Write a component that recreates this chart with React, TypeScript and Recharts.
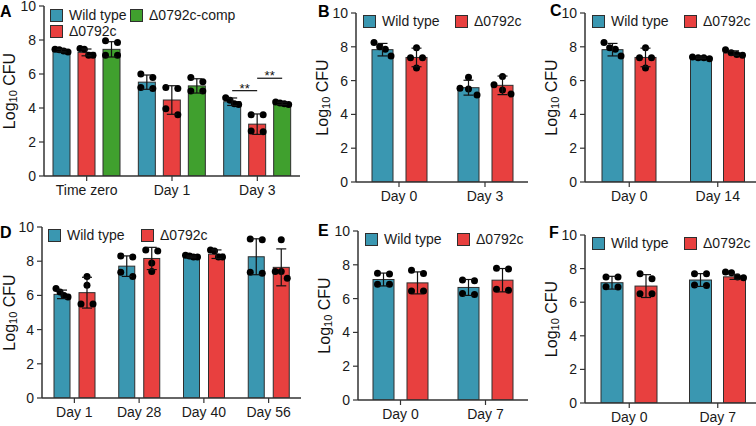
import { BarChart, Bar, XAxis, YAxis, ErrorBar } from "recharts";

const FONT = '"Liberation Sans", Arial, Helvetica, sans-serif';
const WT_COLOR = "#3a97b1";
const MUT_COLOR = "#e8403f";
const COMP_COLOR = "#40a02e";
const EDGE = "#2e2e2e";
const INK = "#1a1a1a";

// ---- panel A ----
const aCategories = ["Time zero", "Day 1", "Day 3"];
const aWtMean = [7.38, 5.52, 4.37];
const aWtSd = [0.08, 0.42, 0.22];
const aWtPts = [[7.3, 7.42, 7.45, 7.36], [5.8, 6.0, 5.2, 5.15], [4.6, 4.45, 4.2, 4.25]];
const aMutMean = [7.27, 4.47, 3.05];
const aMutSd = [0.2, 0.84, 0.6];
const aMutPts = [[7.45, 7.5, 7.1, 7.1], [5.2, 5.15, 3.95, 3.6], [3.6, 3.6, 2.65, 2.6]];
const aCompMean = [7.45, 5.3, 4.27];
const aCompSd = [0.45, 0.42, 0.07];
const aCompPts = [[7.85, 7.95, 7.1, 7.1], [5.55, 5.8, 5.0, 5.0], [4.35, 4.3, 4.25, 4.2]];
const aBrackets = [
  { category: "Day 3", from: 0, to: 1, level: 5.02, text: "**" },
  { category: "Day 3", from: 1, to: 2, level: 5.75, text: "**" },
];

// ---- panel B ----
const bCategories = ["Day 0", "Day 3"];
const bWtMean = [7.83, 5.58];
const bWtSd = [0.37, 0.44];
const bWtPts = [[8.0, 8.25, 7.85, 7.45], [6.2, 5.55, 5.5, 5.15]];
const bMutMean = [7.37, 5.72];
const bMutSd = [0.55, 0.55];
const bMutPts = [[7.95, 7.35, 7.35, 6.75], [6.25, 5.75, 5.45, 5.2]];

// ---- panel C ----
const cCategories = ["Day 0", "Day 14"];
const cWtMean = [7.83, 7.35];
const cWtSd = [0.37, 0.05];
const cWtPts = [[8.25, 7.95, 7.85, 7.45], [7.4, 7.35, 7.3, 7.35]];
const cMutMean = [7.37, 7.63];
const cMutSd = [0.55, 0.13];
const cMutPts = [[7.95, 7.35, 7.35, 6.75], [7.82, 7.65, 7.55, 7.5]];

// ---- panel D ----
const dCategories = ["Day 1", "Day 28", "Day 40", "Day 56"];
const dWtMean = [6.06, 7.71, 8.25, 8.26];
const dWtSd = [0.25, 0.6, 0.05, 1.05];
const dWtPts = [[6.4, 6.2, 6.0, 5.9], [8.3, 8.25, 7.35, 7.1], [8.35, 8.3, 8.25, 8.25], [9.3, 9.25, 7.3, 7.35]];
const dMutMean = [6.16, 8.16, 8.41, 7.64];
const dMutSd = [0.9, 0.65, 0.25, 1.08];
const dMutPts = [[7.1, 6.6, 5.5, 5.5], [8.65, 8.6, 7.9, 7.4], [8.65, 8.6, 8.25, 8.25], [9.25, 7.4, 7.4, 7.0]];

// ---- panel E ----
const eCategories = ["Day 0", "Day 7"];
const eWtMean = [7.13, 6.66];
const eWtSd = [0.38, 0.47];
const eWtPts = [[7.45, 7.5, 6.85, 6.85], [7.1, 7.05, 6.3, 6.25]];
const eMutMean = [6.93, 7.09];
const eMutSd = [0.65, 0.69];
const eMutPts = [[7.68, 7.48, 6.45, 6.45], [7.75, 7.8, 6.5, 6.55]];

// ---- panel F ----
const fCategories = ["Day 0", "Day 7"];
const fWtMean = [7.16, 7.32];
const fWtSd = [0.38, 0.38];
const fWtPts = [[7.5, 7.5, 6.92, 6.9], [7.7, 7.7, 7.0, 7.02]];
const fMutMean = [6.96, 7.51];
const fMutSd = [0.68, 0.15];
const fMutPts = [[7.7, 7.4, 6.5, 6.5], [7.8, 7.75, 7.5, 7.45]];

const yTicks = [0, 2, 4, 6, 8, 10];

type Series = { key: string; name: string; color: string; mean: number[]; sd: number[]; pts: number[][] };
type Bracket = { category: string; from: number; to: number; level: number; text: string };

const wt = (mean: number[], sd: number[], pts: number[][]): Series => ({ key: "wt", name: "Wild type", color: WT_COLOR, mean, sd, pts });
const mut = (mean: number[], sd: number[], pts: number[][]): Series => ({ key: "mut", name: "Δ0792c", color: MUT_COLOR, mean, sd, pts });

function buildRows(categories: string[], series: Series[]) {
  return categories.map((c, i) => {
    const row: any = { label: c };
    series.forEach((s) => {
      row[s.key] = s.mean[i];
      row[s.key + "Sd"] = s.sd[i];
      row[s.key + "Pts"] = s.pts[i];
    });
    return row;
  });
}

// spread replicate dots sideways when they would overlap
function placeDots(values: number[], base: number, k: number, cx: number, width: number) {
  const r = 3.5;
  const items = values.map((v) => ({ y: base - v * k })).sort((a, b) => a.y - b.y);
  const groups: { y: number }[][] = [];
  items.forEach((it) => {
    const g = groups[groups.length - 1];
    if (g && it.y - g[g.length - 1].y < 2 * r) g.push(it);
    else groups.push([it]);
  });
  const out: { x: number; y: number }[] = [];
  groups.forEach((g) => {
    const n = g.length;
    const step = n > 1 ? Math.min(12, (width - 4) / (n - 1)) : 0;
    g.forEach((it, j) => out.push({ x: cx + (j - (n - 1) / 2) * step, y: it.y }));
  });
  return out;
}

function barShape(s: Series, idx: number, gap: number, brackets: Bracket[]) {
  return (p: any) => {
    const { x, y, width, height, payload } = p;
    const mean = payload[s.key];
    const base = y + height;
    const k = mean ? height / mean : 0;
    const cx = x + width / 2;
    const dots = placeDots(payload[s.key + "Pts"] || [], base, k, cx, width);
    const marks = brackets.filter((b) => b.category === payload.label && b.to === idx);
    return (
      <g>
        <rect x={x} y={y} width={width} height={height} fill={s.color} stroke={EDGE} strokeWidth={1} />
        {dots.map((d, i) => (
          <circle key={i} cx={d.x} cy={d.y} r={3.5} fill="#000" />
        ))}
        {marks.map((b, i) => {
          const x0 = cx - (b.to - b.from) * (width + gap);
          const yy = base - b.level * k;
          return (
            <g key={"b" + i}>
              <line x1={x0} x2={cx} y1={yy} y2={yy} stroke="#111" strokeWidth={1.2} />
              <text x={(x0 + cx) / 2} y={yy + 2} textAnchor="middle" fontSize={13} fontFamily={FONT} fill="#111">
                {b.text}
              </text>
            </g>
          );
        })}
      </g>
    );
  };
}

const yLabel = (offset: number) => (props: any) => {
  const vb = props.viewBox || { x: 0, y: 0, width: 60, height: 170 };
  const x = vb.x + vb.width - offset;
  const y = vb.y + vb.height / 2;
  return (
    <text x={x} y={y} transform={`rotate(-90 ${x} ${y})`} textAnchor="middle" dominantBaseline="central" fontFamily={FONT} fontSize={16} fill="#111">
      Log<tspan fontSize={11} dy={4}>10</tspan>
      <tspan dy={-4}> CFU</tspan>
    </text>
  );
};

type LegendItem = { s: Series; dx: number; dy: number };

type PanelProps = {
  letter: string;
  letterX: number;
  letterY: number;
  left: number;
  top: number;
  plotW: number;
  plotH: number;
  categories: string[];
  series: Series[];
  barSize: number;
  barGap: number;
  labelOffset: number;
  legend: LegendItem[];
  brackets?: Bracket[];
};

function Panel(props: PanelProps) {
  const { left, top, plotW, plotH, series, barSize, barGap } = props;
  const padL = 60;
  const padT = 12;
  const padR = 12;
  const xH = 30;
  const padB = 10;
  const rows = buildRows(props.categories, series);
  const brackets = props.brackets || [];
  return (
    <>
      <div style={{ position: "absolute", left: left - padL, top: top - padT }}>
        <BarChart
          width={plotW + padL + padR}
          height={plotH + padT + xH + padB}
          data={rows}
          margin={{ top: padT, right: padR, bottom: padB, left: 0 }}
          barSize={barSize}
          barGap={barGap}
        >
          <XAxis
            dataKey="label"
            height={xH}
            interval={0}
            tickSize={5}
            tickMargin={4}
            axisLine={{ stroke: "#333", strokeWidth: 1.5 }}
            tickLine={{ stroke: "#333", strokeWidth: 1.2 }}
            tick={{ fontSize: 14, fill: INK, fontFamily: FONT }}
          />
          <YAxis
            width={padL}
            domain={[0, 10]}
            ticks={yTicks}
            allowDataOverflow
            interval={0}
            tickSize={5}
            tickMargin={3}
            axisLine={{ stroke: "#333", strokeWidth: 1.5 }}
            tickLine={{ stroke: "#333", strokeWidth: 1.2 }}
            tick={{ fontSize: 14, fill: INK, fontFamily: FONT }}
            label={{ content: yLabel(props.labelOffset) }}
          />
          {series.map((s, i) => (
            <Bar key={s.key} dataKey={s.key} name={s.name} isAnimationActive={false} shape={barShape(s, i, barGap, brackets)}>
              <ErrorBar dataKey={s.key + "Sd"} width={5} stroke="#111" strokeWidth={1.2} />
            </Bar>
          ))}
        </BarChart>
      </div>
      {props.legend.map((it, i) => (
        <div
          key={i}
          style={{
            position: "absolute",
            left: left + it.dx,
            top: top + it.dy,
            display: "flex",
            alignItems: "center",
            fontFamily: FONT,
            fontSize: 14,
            lineHeight: "13px",
            color: INK,
            whiteSpace: "nowrap",
          }}
        >
          <span style={{ display: "inline-block", width: 11, height: 11, background: it.s.color, border: `1px solid ${EDGE}`, marginRight: 6 }} />
          {it.s.name}
        </div>
      ))}
      <div
        style={{
          position: "absolute",
          left: props.letterX,
          top: props.letterY,
          fontFamily: FONT,
          fontWeight: "bold",
          fontSize: 16,
          lineHeight: "16px",
          color: "#000",
        }}
      >
        {props.letter}
      </div>
    </>
  );
}

export default function App() {
  const aWt = wt(aWtMean, aWtSd, aWtPts);
  const aMut = mut(aMutMean, aMutSd, aMutPts);
  const aComp: Series = { key: "comp", name: "Δ0792c-comp", color: COMP_COLOR, mean: aCompMean, sd: aCompSd, pts: aCompPts };
  const bWt = wt(bWtMean, bWtSd, bWtPts);
  const bMut = mut(bMutMean, bMutSd, bMutPts);
  const cWt = wt(cWtMean, cWtSd, cWtPts);
  const cMut = mut(cMutMean, cMutSd, cMutPts);
  const dWt = wt(dWtMean, dWtSd, dWtPts);
  const dMut = mut(dMutMean, dMutSd, dMutPts);
  const eWt = wt(eWtMean, eWtSd, eWtPts);
  const eMut = mut(eMutMean, eMutSd, eMutPts);
  const fWt = wt(fWtMean, fWtSd, fWtPts);
  const fMut = mut(fMutMean, fMutSd, fMutPts);

  const twoLegend = (w: Series, m: Series): LegendItem[] => [
    { s: w, dx: 7, dy: 2 },
    { s: m, dx: 99, dy: 2 },
  ];

  return (
    <div style={{ position: "absolute", left: 0, top: 0, width: 756, height: 426, overflow: "hidden", background: "#fff" }}>
      <Panel
        letter="A" letterX={0} letterY={4}
        left={44} top={6} plotW={256} plotH={170}
        categories={aCategories} series={[aWt, aMut, aComp]}
        barSize={17} barGap={8} labelOffset={35}
        legend={[
          { s: aWt, dx: 6, dy: 3 },
          { s: aComp, dx: 86, dy: 3 },
          { s: aMut, dx: 6, dy: 19 },
        ]}
        brackets={aBrackets}
      />
      <Panel
        letter="B" letterX={318} letterY={4}
        left={356} top={13} plotW={172} plotH={169}
        categories={bCategories} series={[bWt, bMut]}
        barSize={21} barGap={13} labelOffset={34}
        legend={twoLegend(bWt, bMut)}
      />
      <Panel
        letter="C" letterX={550} letterY={3}
        left={585} top={13} plotW={177} plotH={169}
        categories={cCategories} series={[cWt, cMut]}
        barSize={21} barGap={12} labelOffset={34}
        legend={twoLegend(cWt, cMut)}
      />
      <Panel
        letter="D" letterX={0} letterY={225}
        left={42} top={227} plotW={259} plotH={171}
        categories={dCategories} series={[dWt, dMut]}
        barSize={16} barGap={9} labelOffset={33}
        legend={[
          { s: dWt, dx: 6, dy: 2 },
          { s: dMut, dx: 99, dy: 2 },
        ]}
      />
      <Panel
        letter="E" letterX={318} letterY={223}
        left={358} top={231} plotW={170} plotH={169}
        categories={eCategories} series={[eWt, eMut]}
        barSize={21} barGap={13} labelOffset={34}
        legend={twoLegend(eWt, eMut)}
      />
      <Panel
        letter="F" letterX={549} letterY={225}
        left={585} top={235} plotW={177} plotH={168}
        categories={fCategories} series={[fWt, fMut]}
        barSize={22} barGap={12} labelOffset={34}
        legend={twoLegend(fWt, fMut)}
      />
    </div>
  );
}
